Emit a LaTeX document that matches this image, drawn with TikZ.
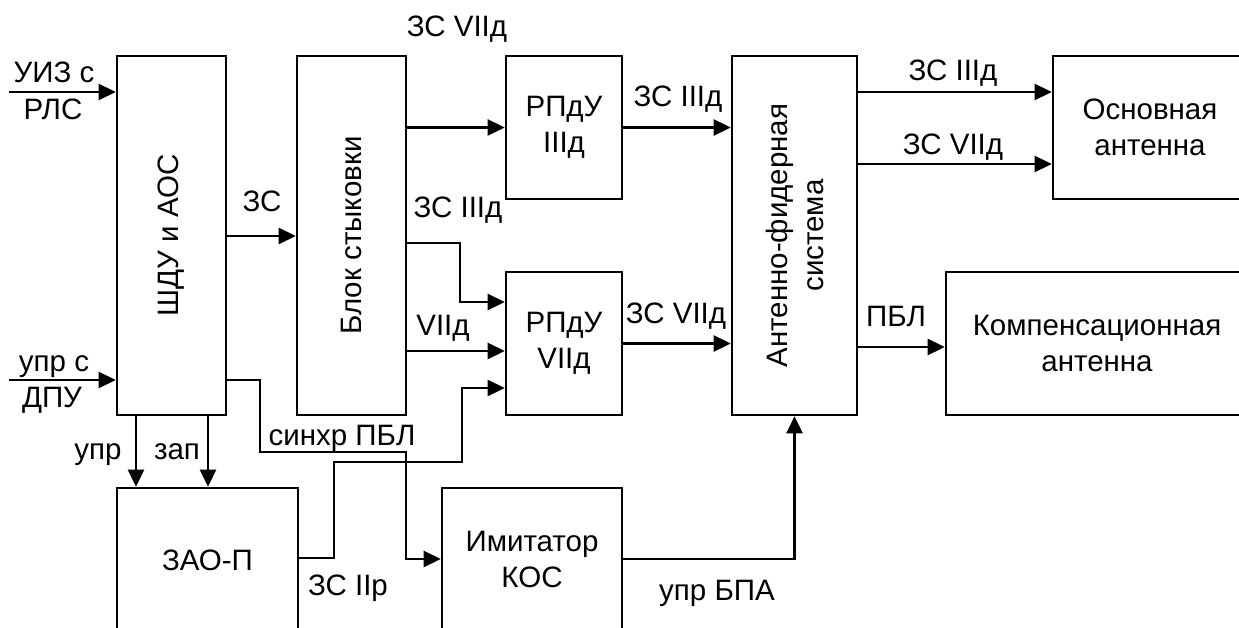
\documentclass[tikz,border=0pt]{standalone}
\usepackage{fontspec}
\setmainfont{Liberation Sans}
\usetikzlibrary{arrows.meta}
\begin{document}
\begin{tikzpicture}[x=1pt,y=-1pt,
  txt/.style={font=\fontsize{29.5}{36}\selectfont,inner sep=0pt,align=center},
  blk/.style={draw,line width=2.6pt,inner sep=0pt,font=\fontsize{29.5}{36}\selectfont,align=center},
  arr/.style={line width=2.6pt,-{Triangle[length=17pt,width=16pt]}}]
\useasboundingbox (0,0) rectangle (1239,628);
\clip (0,0) rectangle (1239,628);
% blocks
\node[blk,minimum width=109pt,minimum height=359pt] (shdu) at (171.5,235.5) {};
\node[blk,minimum width=109pt,minimum height=359pt] (blok) at (351.5,235.5) {};
\node[blk,minimum width=116pt,minimum height=143pt] (rp3) at (564,127.5) {РПдУ\\IIIд};
\node[blk,minimum width=116pt,minimum height=143pt] (rp7) at (564,343.5) {РПдУ\\VIIд};
\node[blk,minimum width=125pt,minimum height=359pt] (afs) at (794.5,235.5) {};
\node[blk,minimum width=194pt,minimum height=143pt] (osn) at (1150,127.5) {Основная\\антенна};
\node[blk,minimum width=302pt,minimum height=143pt] (komp) at (1097,343.5) {Компенсационная\\антенна};
\node[blk,minimum width=181pt,minimum height=144pt] (zao) at (207.5,560) {ЗАО-П};
\node[blk,minimum width=180pt,minimum height=142pt] (imit) at (532,559) {Имитатор\\КОС};
% rotated texts
\node[txt,rotate=90] (tshdu) at (shdu.center) {ШДУ и АОС};
\node[txt,rotate=90] (tblok) at (blok.center) {Блок стыковки};
\node[txt,rotate=90] (tafs) at (afs.center) {Антенно-фидерная\\система};
% inputs
\coordinate (uiz) at (9,92);
\coordinate (dpu) at (9,380);
\draw[arr] (uiz) -- (uiz -| shdu.west);
\draw[arr] (dpu) -- (dpu -| shdu.west);
% connectors
\draw[arr] (shdu.east |- 0,236) -- (blok.west |- 0,236);
\draw[arr] (blok.east |- rp3.west) -- (rp3.west);
\draw[arr] (blok.east |- 0,243) -| (460,302) -- (rp7.west |- 0,302);
\draw[arr] (blok.east |- 0,351) -- (rp7.west |- 0,351);
\draw[arr] (zao.east |- 0,558) -| (334,462) -| (462,388) -- (rp7.west |- 0,388);
\draw[arr] (shdu.east |- dpu) -| (260,452) -| (406,559) -- (imit.west |- 0,559);
\draw[arr] (shdu.south -| 136,0) -- (zao.north -| 136,0);
\draw[arr] (shdu.south -| 208,0) -- (zao.north -| 208,0);
\draw[arr] (rp3.east) -- (rp3.east -| afs.west);
\draw[arr] (rp7.east) -- (rp7.east -| afs.west);
\draw[arr] (imit.east) -| (afs.south);
\draw[arr] (afs.east |- 0,92) -- (osn.west |- 0,92);
\draw[arr] (afs.east |- 0,164) -- (osn.west |- 0,164);
\draw[arr] (afs.east |- 0,347) -- (komp.west |- 0,347);
% labels
\node[txt,anchor=base] (l1) at (54,83) {УИЗ с};
\node[txt,anchor=base] (l2) at (53,120) {РЛС};
\node[txt,anchor=base] (l3) at (54,371) {упр с};
\node[txt,anchor=base] (l4) at (52,407) {ДПУ};
\node[txt,anchor=base] (l5) at (262,212) {ЗС};
\node[txt,anchor=base] (l6) at (98,459) {упр};
\node[txt,anchor=base] (l7) at (177,459) {зап};
\node[txt,anchor=base] (l8) at (342,445) {синхр ПБЛ};
\node[txt,anchor=base] (l9) at (348,595) {ЗС IIр};
\node[txt,anchor=base] (l10) at (457,37) {ЗС VIIд};
\node[txt,anchor=base] (l11) at (458,218) {ЗС IIIд};
\node[txt,anchor=base] (l12) at (443,335) {VIIд};
\node[txt,anchor=base] (l13) at (678,107) {ЗС IIIд};
\node[txt,anchor=base] (l14) at (676,323) {ЗС VIIд};
\node[txt,anchor=base] (l15) at (717,600) {упр БПА};
\node[txt,anchor=base] (l16) at (953,81) {ЗС IIIд};
\node[txt,anchor=base] (l17) at (953,155) {ЗС VIIд};
\node[txt,anchor=base] (l18) at (896,326) {ПБЛ};
\end{tikzpicture}
\end{document}
